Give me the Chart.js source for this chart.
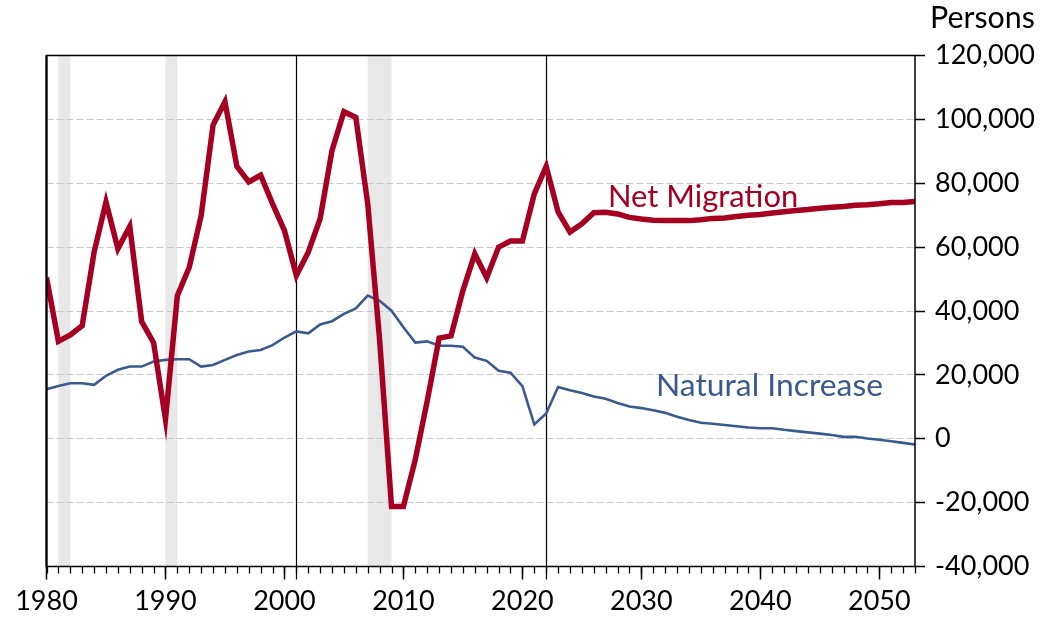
<!DOCTYPE html>
<html>
<head>
<meta charset="utf-8">
<script src="https://cdn.jsdelivr.net/npm/chart.js@4.4.1/dist/chart.umd.min.js"></script>
<style>
  html, body { margin: 0; padding: 0; background: #fff; }
  #c { display: block; }
</style>
</head>
<body>
<canvas id="c" width="1045" height="620"></canvas>
<script>
// Components of population change, 1980-2053 (persons per year).
const YEARS = [
  1980, 1981, 1982, 1983, 1984, 1985, 1986, 1987, 1988, 1989,
  1990, 1991, 1992, 1993, 1994, 1995, 1996, 1997, 1998, 1999,
  2000, 2001, 2002, 2003, 2004, 2005, 2006, 2007, 2008, 2009,
  2010, 2011, 2012, 2013, 2014, 2015, 2016, 2017, 2018, 2019,
  2020, 2021, 2022, 2023, 2024, 2025, 2026, 2027, 2028, 2029,
  2030, 2031, 2032, 2033, 2034, 2035, 2036, 2037, 2038, 2039,
  2040, 2041, 2042, 2043, 2044, 2045, 2046, 2047, 2048, 2049,
  2050, 2051, 2052, 2053];

const NET_MIGRATION = [
  50500, 30500, 32500, 35400, 58400, 74100, 59500, 66500, 36700, 30100,
  6100, 44800, 53700, 69900, 98200, 105500, 85300, 80400, 82500, 73600,
  65200, 51100, 58400, 68900, 90300, 102400, 100600, 73600, 31000, -21200,
  -21200, -6500, 11800, 31500, 32200, 46400, 57900, 50400, 60000, 61900,
  61900, 76700, 85300, 71000, 64700, 67300, 70800, 70900, 70400, 69300,
  68800, 68400, 68300, 68300, 68300, 68600, 69000, 69100, 69600, 70000,
  70200, 70700, 71100, 71500, 71800, 72200, 72500, 72700, 73100, 73300,
  73600, 74000, 74000, 74300];

const NATURAL_INCREASE = [
  15500, 16500, 17400, 17400, 16900, 19700, 21600, 22600, 22600, 24200,
  24700, 24900, 24900, 22600, 23100, 24700, 26200, 27300, 27800, 29300,
  31700, 33600, 33000, 35800, 36800, 39100, 40800, 44800, 43200, 40100,
  34900, 30100, 30500, 29100, 29100, 28800, 25400, 24400, 21300, 20700,
  16500, 4500, 7900, 16200, 15200, 14300, 13200, 12500, 11200, 10100,
  9600, 8900, 8100, 6900, 5900, 5000, 4700, 4300, 3900, 3500,
  3300, 3300, 2800, 2400, 2000, 1600, 1200, 600, 600, 100,
  -300, -800, -1300, -1800];

// Recession bands and the two marker years (vertical rules).
const RECESSIONS = [[1981, 1982], [1990, 1991], [2007, 2009]];
const MARK_YEARS = [2001, 2022];

const Y_MIN = -40000, Y_MAX = 120000, Y_STEP = 20000;
const X_MIN = 1980, X_MAX = 2053, X_STEP = 10;

const RED = '#a50021', BLUE = '#3a5a8e';
const FONT = 'Lato, "Open Sans", sans-serif';

// Font size that makes a text span a given width (the reference uses Calibri).
const mctx = document.createElement('canvas').getContext('2d');
function fitSize(text, width) {
  mctx.font = '100px ' + FONT;
  return 100 * width / mctx.measureText(text).width;
}
const TICK_PX = fitSize('120,000', 100);

function pts(vals) {
  return YEARS.map(function (yr, i) { return { x: yr, y: vals[i] }; });
}

function label(ctx, text, x, baseline, width, color) {
  ctx.font = fitSize(text, width).toFixed(1) + 'px ' + FONT;
  ctx.fillStyle = color;
  ctx.textAlign = 'left';
  ctx.textBaseline = 'alphabetic';
  ctx.fillText(text, x, baseline);
}

const decor = {
  id: 'decor',
  beforeDraw(chart) {
    const { ctx, chartArea: a, scales: { x } } = chart;
    ctx.save();
    ctx.fillStyle = '#e8e8e8';
    RECESSIONS.forEach(function (r) {
      const x0 = x.getPixelForValue(r[0]), x1 = x.getPixelForValue(r[1]);
      ctx.fillRect(x0, a.top, x1 - x0, a.bottom - a.top);
    });
    ctx.restore();
  },
  beforeDatasetsDraw(chart) {
    const { ctx, chartArea: a, scales: { x } } = chart;
    ctx.save();
    ctx.strokeStyle = '#000';
    ctx.lineWidth = 1.2;
    MARK_YEARS.forEach(function (yr) {
      const px = Math.round(x.getPixelForValue(yr)) + 0.5;
      ctx.beginPath(); ctx.moveTo(px, a.top); ctx.lineTo(px, a.bottom + 13); ctx.stroke();
    });
    ctx.restore();
  },
  afterDraw(chart) {
    const { ctx, chartArea: a, scales: { x } } = chart;
    ctx.save();
    // minor year ticks
    ctx.strokeStyle = '#000';
    ctx.lineWidth = 1.3;
    YEARS.forEach(function (yr) {
      const px = Math.round(x.getPixelForValue(yr)) + 0.5;
      ctx.beginPath(); ctx.moveTo(px, a.bottom); ctx.lineTo(px, a.bottom + 7); ctx.stroke();
    });
    // frame
    ctx.lineWidth = 1.5;
    ctx.strokeRect(a.left, a.top, a.right - a.left, a.bottom - a.top);
    ctx.lineWidth = 2.2;
    ctx.beginPath(); ctx.moveTo(a.left, a.top); ctx.lineTo(a.left, a.bottom); ctx.stroke();
    // series labels and unit
    label(ctx, 'Net Migration', 608, 207, 190, RED);
    label(ctx, 'Natural Increase', 656, 396, 227, BLUE);
    label(ctx, 'Persons', 930, 28, 105, '#000');
    ctx.restore();
  }
};

new Chart(document.getElementById('c'), {
  type: 'line',
  data: {
    datasets: [
      { label: 'Net Migration', data: pts(NET_MIGRATION), borderColor: RED, borderWidth: 5.5,
        pointRadius: 0, tension: 0, fill: false },
      { label: 'Natural Increase', data: pts(NATURAL_INCREASE), borderColor: BLUE, borderWidth: 2.6,
        pointRadius: 0, tension: 0, fill: false }
    ]
  },
  options: {
    responsive: false,
    animation: false,
    devicePixelRatio: 1,
    layout: { padding: { left: 46.5, top: 55.5, right: 0, bottom: 0 } },
    plugins: { legend: { display: false }, tooltip: { enabled: false } },
    scales: {
      x: {
        type: 'linear', min: X_MIN, max: X_MAX,
        border: { display: false },
        grid: { drawOnChartArea: false, tickLength: 13, tickColor: '#000', tickWidth: 1.5 },
        ticks: { stepSize: X_STEP, includeBounds: false, autoSkip: false, maxRotation: 0, padding: 6,
          color: '#000', font: { family: FONT, size: TICK_PX },
          callback: function (v) { return String(v); } },
        afterFit: function (s) { s.height = 53.5; }
      },
      y: {
        position: 'right', min: Y_MIN, max: Y_MAX,
        border: { display: false, dash: [7, 3] },
        grid: { color: '#c8c8c8', lineWidth: 1, tickLength: 10, tickColor: '#000', tickWidth: 1.5 },
        ticks: { stepSize: Y_STEP, padding: 10, color: '#000', font: { family: FONT, size: TICK_PX },
          callback: function (v) { return v.toLocaleString('en-US'); } },
        afterFit: function (s) { s.width = 130; }
      }
    }
  },
  plugins: [decor]
});
</script>
</body>
</html>
